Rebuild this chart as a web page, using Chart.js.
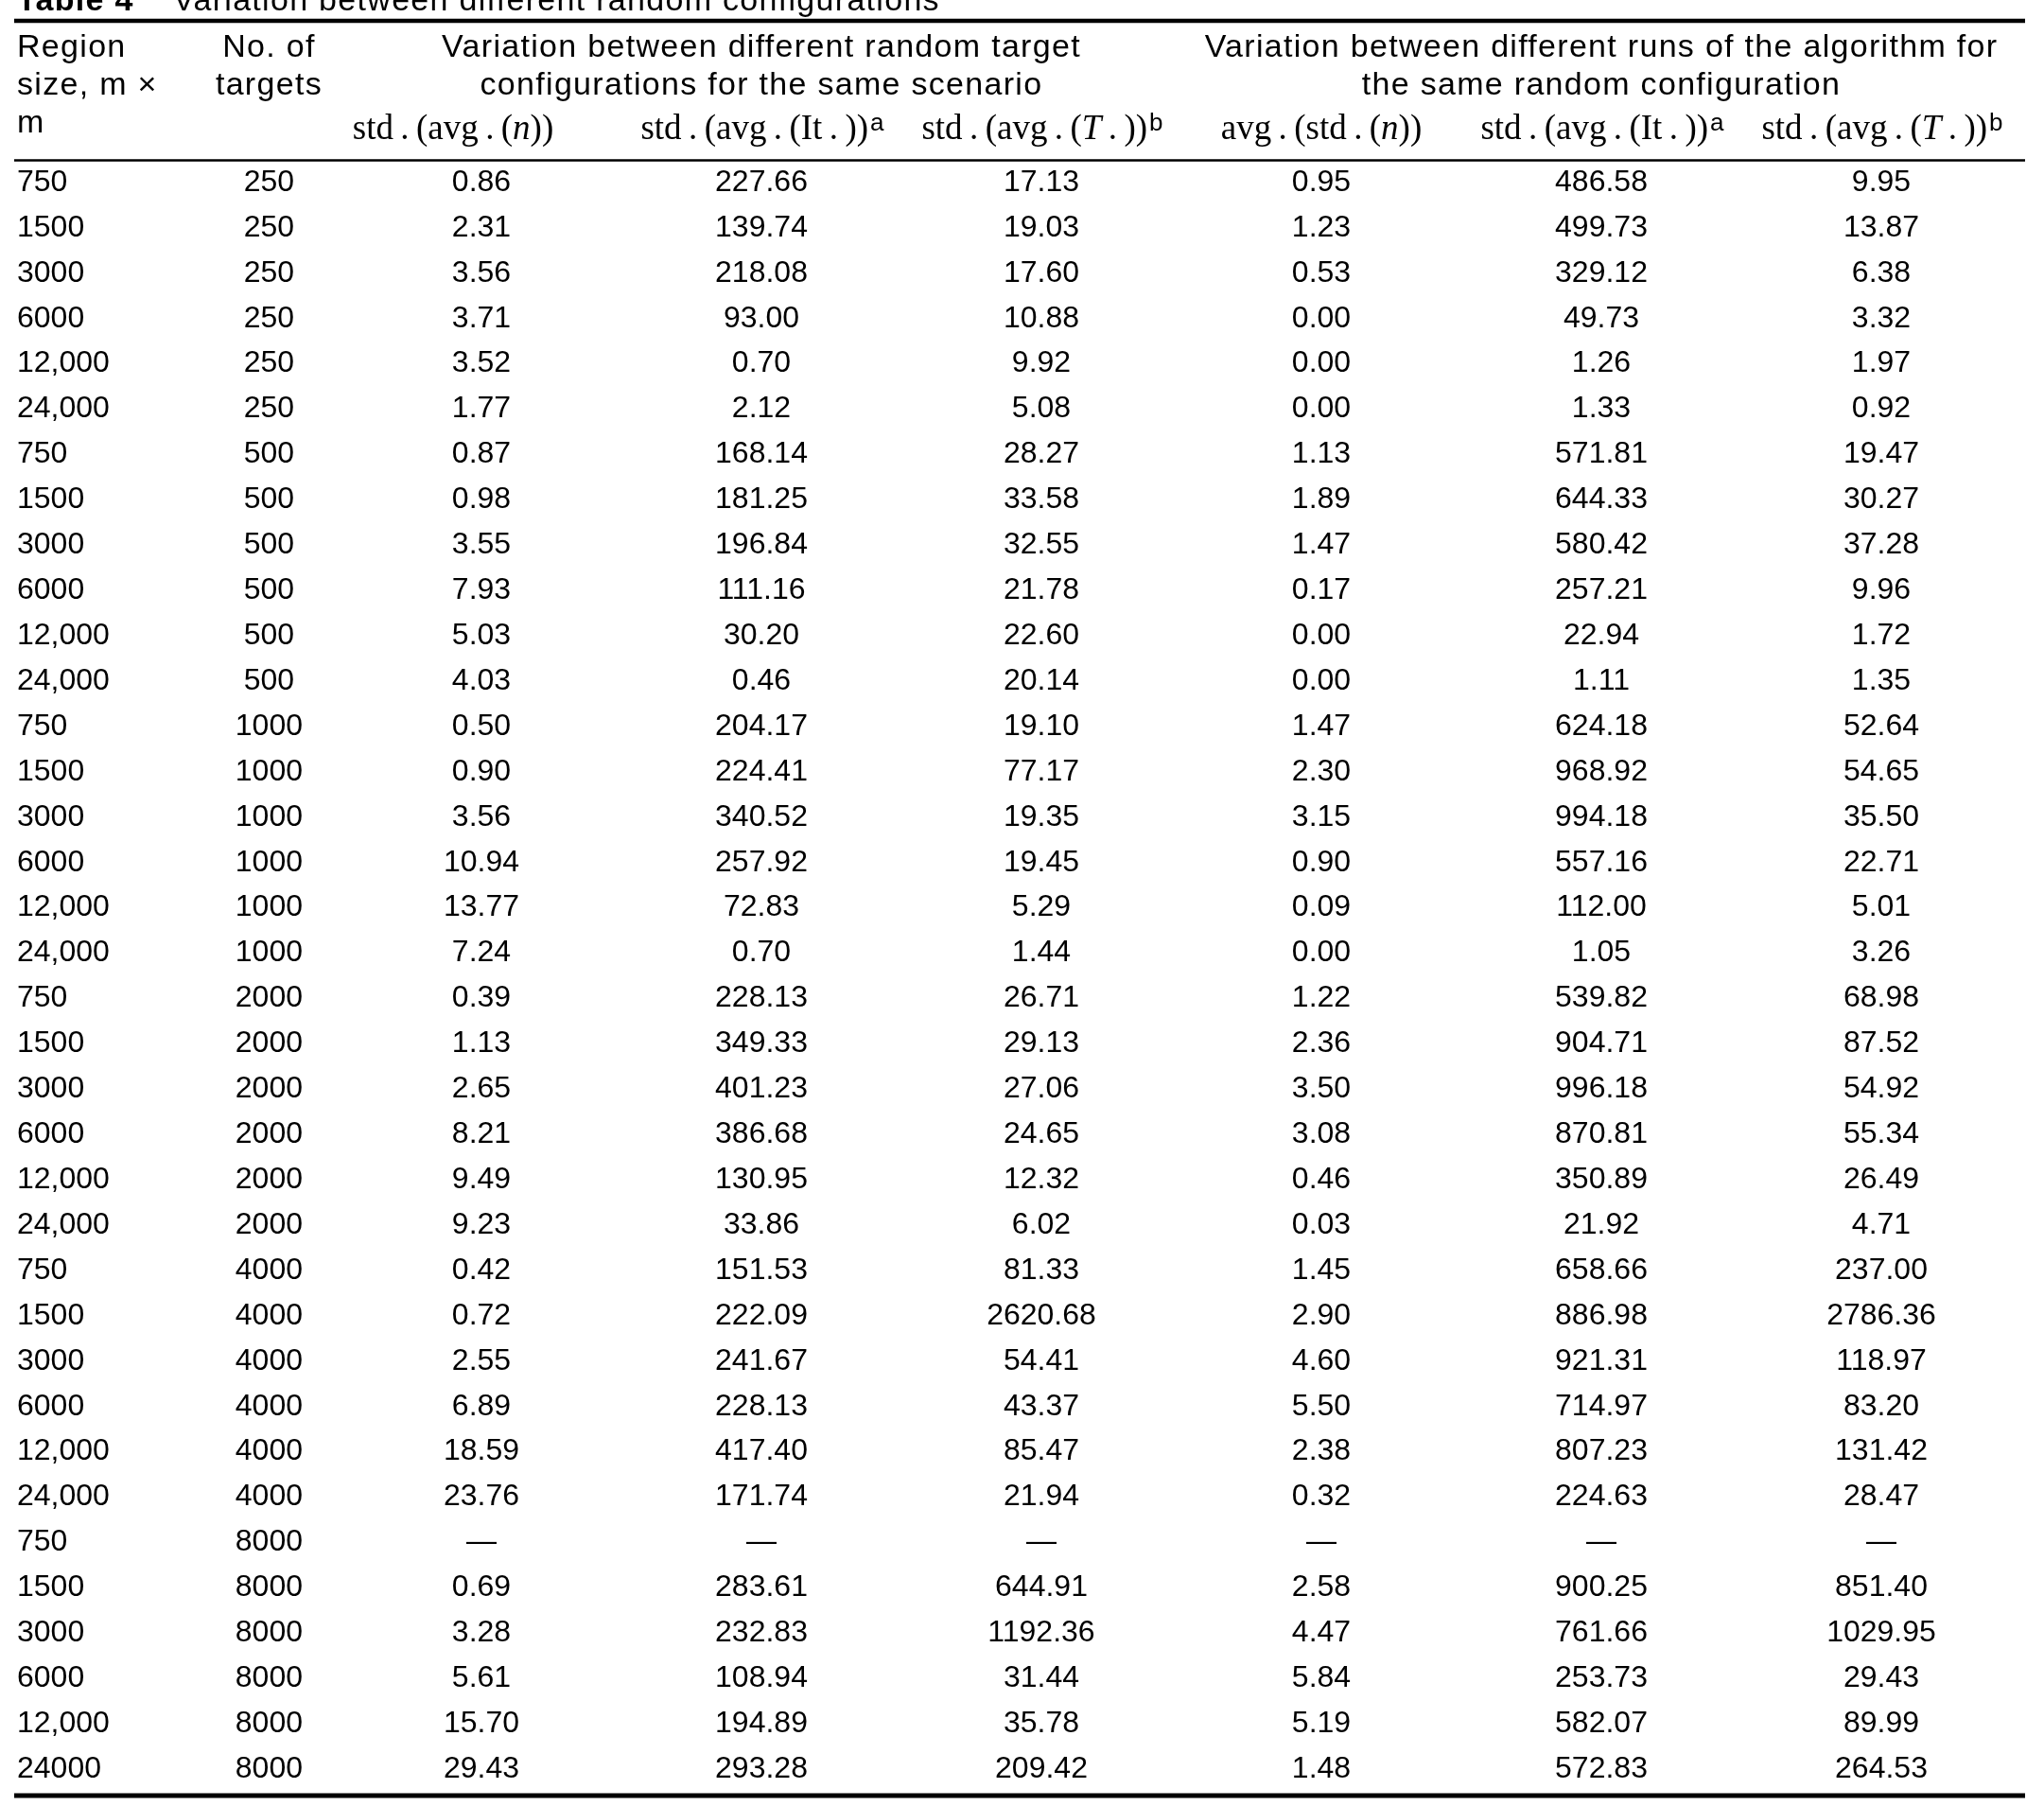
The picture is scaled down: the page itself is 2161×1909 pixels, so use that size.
<!DOCTYPE html>
<html>
<head>
<meta charset="utf-8">
<title>Table 4</title>
<script src="https://cdn.jsdelivr.net/npm/chart.js@4.4.1/dist/chart.umd.min.js"></script>
<style>
  html, body { margin: 0; padding: 0; background: #fff; }
  canvas { display: block; }
</style>
</head>
<body>
<canvas id="table-chart" width="2161" height="1909"></canvas>
<script>
// row labels
const regionSize = [
    '750', '1500', '3000', '6000', '12,000', '24,000',
    '750', '1500', '3000', '6000', '12,000', '24,000',
    '750', '1500', '3000', '6000', '12,000', '24,000',
    '750', '1500', '3000', '6000', '12,000', '24,000',
    '750', '1500', '3000', '6000', '12,000', '24,000',
    '750', '1500', '3000', '6000', '12,000', '24000'
];
const targetCount = [
    '250', '250', '250', '250', '250', '250',
    '500', '500', '500', '500', '500', '500',
    '1000', '1000', '1000', '1000', '1000', '1000',
    '2000', '2000', '2000', '2000', '2000', '2000',
    '4000', '4000', '4000', '4000', '4000', '4000',
    '8000', '8000', '8000', '8000', '8000', '8000'
];

// variation between random target configurations (null = no value)
const stdAvgN = [
    0.86, 2.31, 3.56, 3.71, 3.52, 1.77,
    0.87, 0.98, 3.55, 7.93, 5.03, 4.03,
    0.50, 0.90, 3.56, 10.94, 13.77, 7.24,
    0.39, 1.13, 2.65, 8.21, 9.49, 9.23,
    0.42, 0.72, 2.55, 6.89, 18.59, 23.76,
    null, 0.69, 3.28, 5.61, 15.70, 29.43
];
const stdAvgIt = [
    227.66, 139.74, 218.08, 93.00, 0.70, 2.12,
    168.14, 181.25, 196.84, 111.16, 30.20, 0.46,
    204.17, 224.41, 340.52, 257.92, 72.83, 0.70,
    228.13, 349.33, 401.23, 386.68, 130.95, 33.86,
    151.53, 222.09, 241.67, 228.13, 417.40, 171.74,
    null, 283.61, 232.83, 108.94, 194.89, 293.28
];
const stdAvgT = [
    17.13, 19.03, 17.60, 10.88, 9.92, 5.08,
    28.27, 33.58, 32.55, 21.78, 22.60, 20.14,
    19.10, 77.17, 19.35, 19.45, 5.29, 1.44,
    26.71, 29.13, 27.06, 24.65, 12.32, 6.02,
    81.33, 2620.68, 54.41, 43.37, 85.47, 21.94,
    null, 644.91, 1192.36, 31.44, 35.78, 209.42
];

// variation between runs of the algorithm
const avgStdN = [
    0.95, 1.23, 0.53, 0.00, 0.00, 0.00,
    1.13, 1.89, 1.47, 0.17, 0.00, 0.00,
    1.47, 2.30, 3.15, 0.90, 0.09, 0.00,
    1.22, 2.36, 3.50, 3.08, 0.46, 0.03,
    1.45, 2.90, 4.60, 5.50, 2.38, 0.32,
    null, 2.58, 4.47, 5.84, 5.19, 1.48
];
const runStdAvgIt = [
    486.58, 499.73, 329.12, 49.73, 1.26, 1.33,
    571.81, 644.33, 580.42, 257.21, 22.94, 1.11,
    624.18, 968.92, 994.18, 557.16, 112.00, 1.05,
    539.82, 904.71, 996.18, 870.81, 350.89, 21.92,
    658.66, 886.98, 921.31, 714.97, 807.23, 224.63,
    null, 900.25, 761.66, 253.73, 582.07, 572.83
];
const runStdAvgT = [
    9.95, 13.87, 6.38, 3.32, 1.97, 0.92,
    19.47, 30.27, 37.28, 9.96, 1.72, 1.35,
    52.64, 54.65, 35.50, 22.71, 5.01, 3.26,
    68.98, 87.52, 54.92, 55.34, 26.49, 4.71,
    237.00, 2786.36, 118.97, 83.20, 131.42, 28.47,
    null, 851.40, 1029.95, 29.43, 89.99, 264.53
];

const columnKeys = ['stdAvgN', 'stdAvgIt', 'stdAvgT', 'avgStdN', 'runStdAvgIt', 'runStdAvgT'];
const columns = [stdAvgN, stdAvgIt, stdAvgT, avgStdN, runStdAvgIt, runStdAvgT];

// header texts
const tableTitle = ['Table 4', 'Variation between different random configurations'];
const regionHeader = ['Region', 'size, m \u00d7', 'm'];
const targetHeader = ['No. of', 'targets'];
const groupHeaders = [
    { cols: [0, 1, 2], lines: ['Variation between different random target', 'configurations for the same scenario'] },
    { cols: [3, 4, 5], lines: ['Variation between different runs of the algorithm for', 'the same random configuration'] }
];
const subHeaders = [
    [{ t: 'std\u2009.\u2009(avg\u2009.\u2009(' }, { t: 'n', it: true }, { t: '))' }],
    [{ t: 'std\u2009.\u2009(avg\u2009.\u2009(It\u2009.\u2009))' }, { t: 'a', sup: true }],
    [{ t: 'std\u2009.\u2009(avg\u2009.\u2009(' }, { t: 'T', it: true }, { t: '\u2009.\u2009))' }, { t: 'b', sup: true }],
    [{ t: 'avg\u2009.\u2009(std\u2009.\u2009(' }, { t: 'n', it: true }, { t: '))' }],
    [{ t: 'std\u2009.\u2009(avg\u2009.\u2009(It\u2009.\u2009))' }, { t: 'a', sup: true }],
    [{ t: 'std\u2009.\u2009(avg\u2009.\u2009(' }, { t: 'T', it: true }, { t: '\u2009.\u2009))' }, { t: 'b', sup: true }]
];

const SANS = '"Liberation Sans", Arial, sans-serif';
const SERIF = '"Liberation Serif", "Times New Roman", serif';
const layout = {
    bodySize: 32,
    headSize: 34,
    headSpacing: '1.3px',
    line1: 109, line2: 69, line3: 29, subLine: 22, titleLine: 158,
    topRule: 147, bottomRule: 4,
    subNudge: [-30, 0, 0, 0, 0, 0]
};

const tablePlugin = {
    id: 'tableText',
    beforeDraw(chart) {
        const ctx = chart.ctx;
        ctx.save();
        ctx.fillStyle = '#fff';
        ctx.fillRect(0, 0, chart.width, chart.height);
        ctx.restore();
    },
    afterDatasetsDraw(chart) {
        const ctx = chart.ctx;
        const area = chart.chartArea;
        const xs = chart.scales.x;
        const yReg = chart.scales.y;
        const yTgt = chart.scales.yTargets;
        const body = `${layout.bodySize}px ${SANS}`;
        const head = `${layout.headSize}px ${SANS}`;

        ctx.save();
        ctx.fillStyle = '#000';
        ctx.strokeStyle = '#000';

        // cell values, placed on the dataset points
        ctx.font = body;
        ctx.textAlign = 'center';
        ctx.textBaseline = 'middle';
        chart.data.datasets.forEach((ds, di) => {
            chart.getDatasetMeta(di).data.forEach((pt, i) => {
                const v = ds.data[i].v;
                ctx.fillText(v === null ? '\u2014' : v.toFixed(2), pt.x, pt.y);
            });
        });
        const widest = Math.max(...targetCount.map(s => ctx.measureText(s).width));
        const tgtCenter = yTgt.right - yTgt.options.ticks.padding - widest / 2;

        // horizontal rules
        const ruleL = yReg.left - 3;
        const ruleR = area.right + 4;
        const rule = (y, w) => {
            ctx.lineWidth = w;
            ctx.beginPath();
            ctx.moveTo(ruleL, y);
            ctx.lineTo(ruleR, y);
            ctx.stroke();
        };
        rule(area.top - layout.topRule, 4.5);
        rule(area.top + 0.5, 2.5);
        rule(area.bottom + layout.bottomRule, 5);

        // title and header lines
        ctx.textBaseline = 'alphabetic';
        ctx.letterSpacing = layout.headSpacing;
        ctx.textAlign = 'left';
        ctx.font = `bold ${layout.headSize}px ${SANS}`;
        ctx.fillText(tableTitle[0], yReg.left, area.top - layout.titleLine);
        ctx.font = head;
        ctx.fillText(tableTitle[1], yReg.left + 165, area.top - layout.titleLine);

        const lineY = [area.top - layout.line1, area.top - layout.line2, area.top - layout.line3];
        regionHeader.forEach((s, i) => ctx.fillText(s, yReg.left, lineY[i]));

        ctx.textAlign = 'center';
        targetHeader.forEach((s, i) => ctx.fillText(s, tgtCenter, lineY[i]));

        groupHeaders.forEach(g => {
            const cx = g.cols.reduce((a, c) => a + xs.getPixelForValue(c), 0) / g.cols.length;
            g.lines.forEach((s, i) => ctx.fillText(s, cx, lineY[i]));
        });

        // math sub headers, drawn as runs of mixed fonts
        ctx.letterSpacing = '0px';
        ctx.textAlign = 'left';
        const runFont = r => r.sup ? `26px ${SANS}` : `${r.it ? 'italic ' : ''}37px ${SERIF}`;
        const subY = area.top - layout.subLine;
        subHeaders.forEach((runs, c) => {
            const widths = runs.map(r => { ctx.font = runFont(r); return ctx.measureText(r.t).width; });
            const total = widths.reduce((a, b) => a + b, 0);
            let x = xs.getPixelForValue(c) + layout.subNudge[c] - total / 2;
            runs.forEach((r, i) => {
                ctx.font = runFont(r);
                ctx.fillText(r.t, x + (r.sup ? 2 : 0), r.sup ? subY - 9 : subY);
                x += widths[i];
            });
        });

        ctx.restore();
    }
};

document.addEventListener('DOMContentLoaded', () => {
    const canvas = document.getElementById('table-chart');
    Chart.defaults.font.family = SANS;
    Chart.defaults.color = '#000';

    const rowAxis = (labels, weight, align, pad, width) => ({
        type: 'category',
        labels,
        offset: true,
        position: 'left',
        weight,
        grid: { display: false, drawTicks: false },
        border: { display: false },
        ticks: { autoSkip: false, crossAlign: align, padding: pad, color: '#000', font: { size: layout.bodySize } },
        afterFit: s => { s.width = width; s.paddingTop = 0; s.paddingBottom = 0; }
    });

    new Chart(canvas, {
        type: 'scatter',
        data: {
            datasets: columns.map((vals, c) => ({
                label: columnKeys[c],
                data: vals.map((v, r) => ({ x: columnKeys[c], y: r, v })),
                pointRadius: 0,
                pointHoverRadius: 0,
                pointHitRadius: 0
            }))
        },
        options: {
            responsive: false,
            animation: false,
            devicePixelRatio: 1,
            events: [],
            layout: { padding: { left: 18, top: 169, right: 24, bottom: 15 } },
            plugins: { legend: { display: false }, tooltip: { enabled: false } },
            scales: {
                x: { type: 'category', labels: columnKeys, offset: true, display: false },
                y: rowAxis(regionSize, 2, 'far', 0, 200),
                yTargets: rowAxis(targetCount, 1, 'center', 41, 143)
            }
        },
        plugins: [tablePlugin]
    });
});
</script>
</body>
</html>
